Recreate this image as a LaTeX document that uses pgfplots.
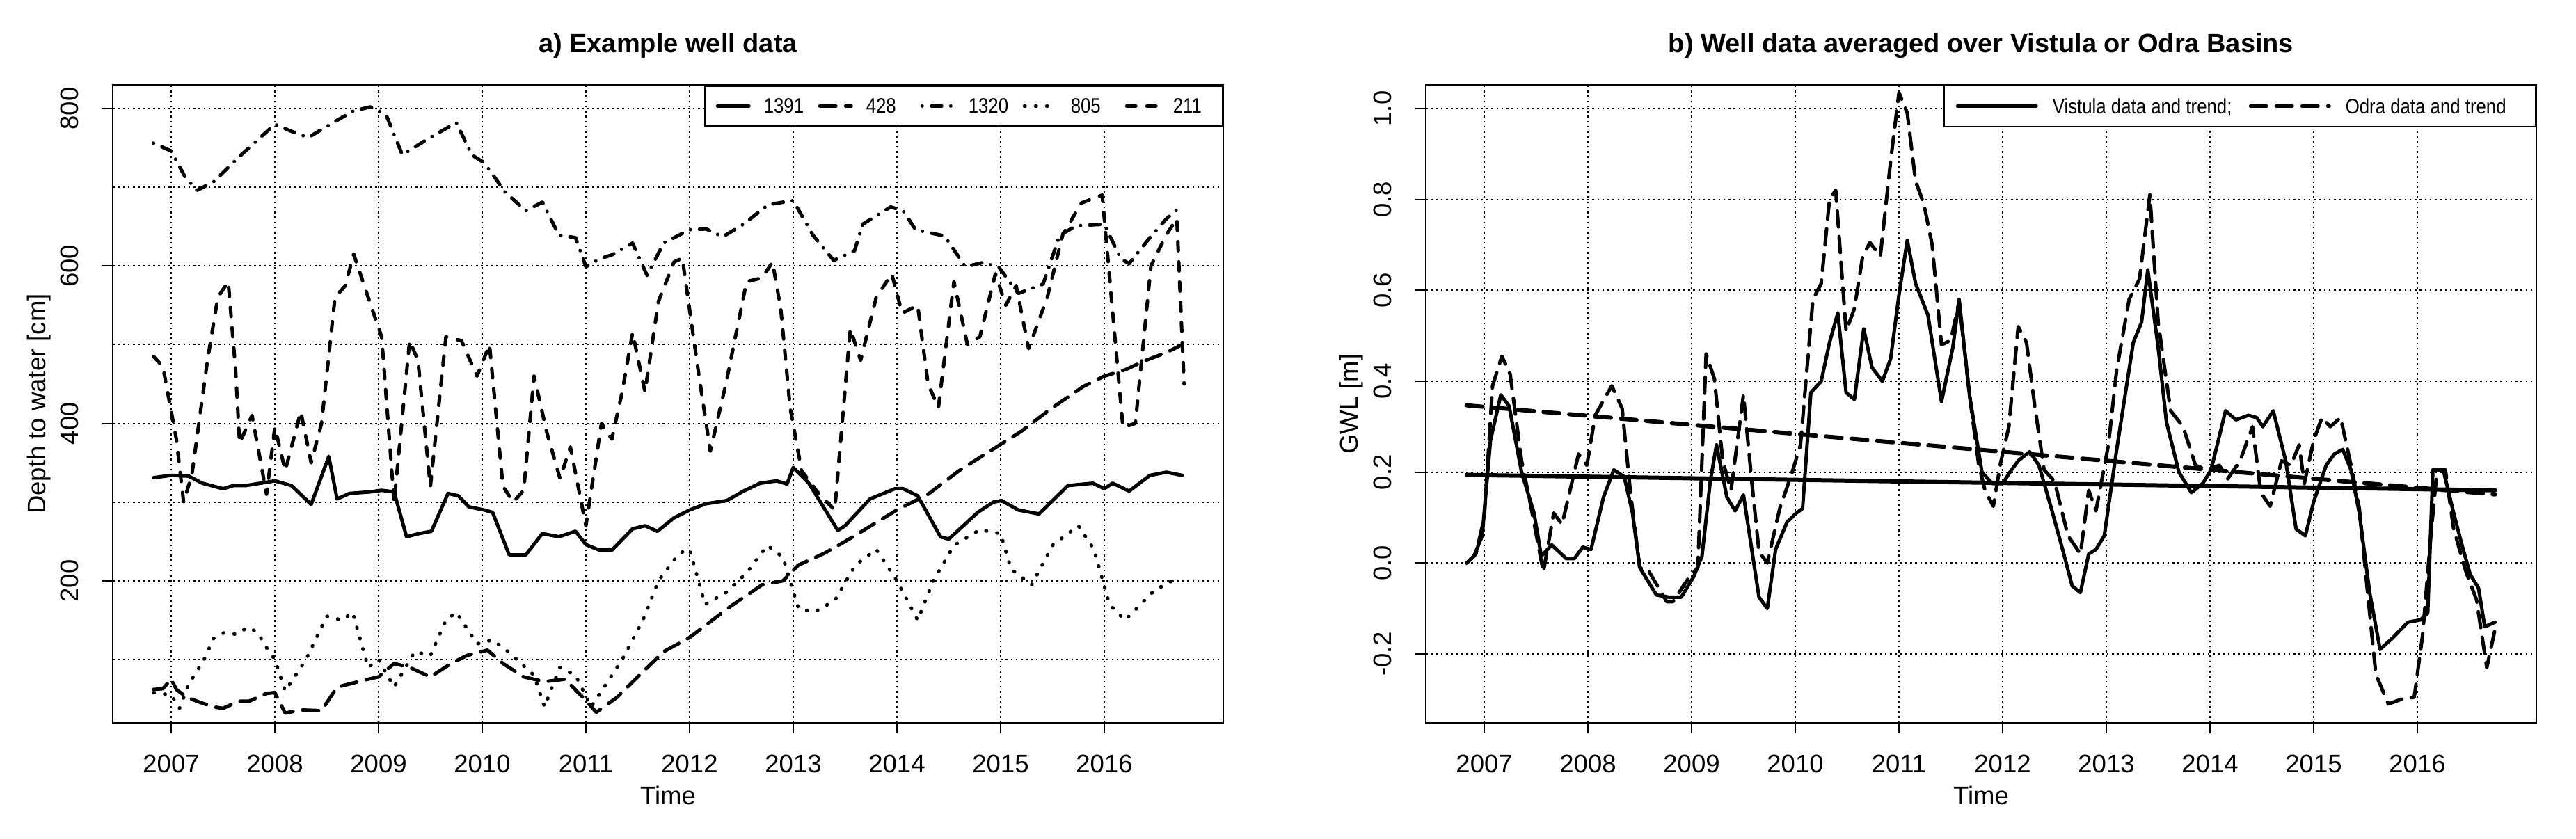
\documentclass[border=0pt]{standalone}
\usepackage{fontspec}
\setmainfont{Liberation Sans}
\newfontfamily\legfont[FakeStretch=0.86]{Liberation Sans}
\usepackage{pgfplots}
\pgfplotsset{compat=1.18}

% common R-like look, 1 px of the reference = 0.2pt
\pgfplotsset{
  rplot/.style={
    scale only axis, width=319.2pt, height=183.4pt,
    xmin=2006.436, xmax=2017.148,
    xtick={2007,2008,2009,2010,2011,2012,2013,2014,2015,2016},
    tick pos=left, tick align=outside,
    major tick length=3pt, minor tick length=0pt,
    major tick style={black, line width=0.4pt},
    axis line style={black, line width=0.5pt},
    xmajorgrids, ymajorgrids,
    major grid style={black, line width=0.4pt, dash pattern=on 0.5pt off 0.95pt},
    minor grid style={black, line width=0.4pt, dash pattern=on 0.5pt off 0.95pt},
    /pgf/number format/assume math mode=true,
    /pgf/number format/1000 sep={},
    tick label style={font=\fontsize{7.3pt}{8.8pt}\selectfont},
    xticklabel style={anchor=base, inner sep=0pt},
    xticklabel shift=11.2pt,
    yticklabel style={rotate=90, anchor=base, inner sep=0pt},
    yticklabel shift=7pt,
    every axis x label/.style={at={(axis description cs:0.5,-0.1276)}, anchor=base,
      font=\fontsize{7.3pt}{8.8pt}\selectfont},
    every axis y label/.style={at={(axis description cs:-0.0605,0.5)}, rotate=90, anchor=base,
      font=\fontsize{7.3pt}{8.8pt}\selectfont},
    every axis title/.style={at={(axis description cs:0.5,1.0502)}, anchor=base,
      font=\bfseries\fontsize{7.6pt}{9pt}\selectfont},
    legend style={at={(axis description cs:1,1)}, anchor=north east,
      draw=black, line width=0.5pt, inner ysep=3.7pt,
      font=\legfont\fontsize{6pt}{7pt}\selectfont,
      nodes={inner sep=0pt, text depth=0pt},
      cells={anchor=west}},
  },
  sdata/.style={black, line width=1pt, line cap=round, line join=round},
  longdash/.style={dash pattern=on 4.6pt off 2.8pt},
  dotdash/.style={dash pattern=on 0.01pt off 2.6pt on 3pt off 2.6pt},
  dotted r/.style={dash pattern=on 0.2pt off 3pt},
  dashed r/.style={dash pattern=on 2.6pt off 3.2pt},
}

\begin{document}
\begin{tikzpicture}
\useasboundingbox (0pt,0pt) rectangle (740.4pt,241pt);

% ---------------- a) ----------------
\begin{axis}[rplot,
  at={(32.4pt,33.2pt)}, anchor=south west,
  ymin=19.6, ymax=830,
  ytick={200,400,600,800},
  minor ytick={100,300,500,700},
  yminorgrids,
  title={a) Example well data},
  xlabel={Time}, ylabel={Depth to water [cm]},
  legend columns=5,
  legend image code/.code={\draw[#1] (0pt,0pt) -- (9pt,0pt);},
  legend style={inner xsep=3.2pt,
    /tikz/every odd column/.append style={column sep=3.8pt},
    /tikz/every even column/.append style={column sep=4.6pt}},
]
% 1391
\addplot[sdata] coordinates {
(2006.83,331) (2007.0,334) (2007.17,333) (2007.3,324) (2007.5,317) (2007.6,321)
(2007.72,321) (2008.0,327) (2008.16,321) (2008.35,297) (2008.52,358) (2008.6,304)
(2008.72,311) (2008.92,313) (2009.03,315) (2009.15,313) (2009.27,256) (2009.39,260)
(2009.51,263) (2009.67,311) (2009.77,308) (2009.87,294) (2010.02,290) (2010.1,287)
(2010.26,233) (2010.42,233) (2010.58,260) (2010.74,256) (2010.9,263) (2011.0,246)
(2011.13,239) (2011.25,239) (2011.45,266) (2011.57,270) (2011.69,263) (2011.85,280)
(2012.0,290) (2012.16,298) (2012.36,302) (2012.52,314) (2012.68,324) (2012.84,327)
(2012.94,323) (2013.0,344) (2013.15,324) (2013.43,264) (2013.5,270) (2013.74,304)
(2013.98,317) (2014.06,317) (2014.2,308) (2014.42,256) (2014.5,253) (2014.78,287)
(2014.93,300) (2015.01,302) (2015.17,290) (2015.37,285) (2015.65,321) (2015.89,324)
(2016.0,317) (2016.08,324) (2016.24,314) (2016.44,334) (2016.6,338) (2016.75,334)
};
\addlegendentry{\makebox[11pt][l]{1391}}
% 428
\addplot[sdata, longdash] coordinates {
(2006.83,62) (2006.92,63) (2007.0,75) (2007.05,62) (2007.15,52) (2007.25,47)
(2007.4,40) (2007.5,38) (2007.65,47) (2007.75,47) (2007.92,57) (2008.0,58)
(2008.1,32) (2008.25,36) (2008.45,35) (2008.6,65) (2008.75,70) (2008.9,75)
(2009.0,78) (2009.15,95) (2009.3,90) (2009.5,78) (2009.7,95) (2009.85,105)
(2010.05,112) (2010.2,95) (2010.4,78) (2010.6,72) (2010.8,75) (2011.0,48)
(2011.1,33) (2011.3,52) (2011.5,78) (2011.75,110) (2012.0,128) (2012.2,148)
(2012.4,168) (2012.7,195) (2012.9,200) (2013.05,220) (2013.3,235) (2013.5,250)
(2013.75,270) (2014.0,290) (2014.3,310) (2014.6,340) (2014.9,365) (2015.2,390)
(2015.5,420) (2015.8,447) (2016.0,460) (2016.2,468) (2016.4,480) (2016.6,490)
(2016.75,500)
};
\addlegendentry{\makebox[11pt][l]{428}}
% 1320
\addplot[sdata, dotdash] coordinates {
(2006.83,756) (2007.0,746) (2007.13,714) (2007.25,696) (2007.41,707) (2007.65,738)
(2008.0,780) (2008.16,771) (2008.32,763) (2008.6,785) (2008.76,797) (2008.92,802)
(2009.07,793) (2009.23,741) (2009.47,761) (2009.75,782) (2009.9,741) (2010.02,731)
(2010.22,694) (2010.42,670) (2010.58,681) (2010.74,639) (2010.9,636) (2011.0,599)
(2011.13,609) (2011.25,614) (2011.45,629) (2011.59,588) (2011.75,629) (2012.0,646)
(2012.16,647) (2012.32,637) (2012.52,653) (2012.76,678) (2013.0,683) (2013.19,639)
(2013.39,607) (2013.59,619) (2013.67,653) (2013.94,675) (2014.06,670) (2014.18,646)
(2014.46,638) (2014.66,599) (2014.82,604) (2014.98,599) (2015.17,565) (2015.41,577)
(2015.57,639) (2015.73,651) (2016.0,653) (2016.16,609) (2016.24,603) (2016.44,636)
(2016.6,660) (2016.75,677)
};
\addlegendentry{\makebox[11pt][l]{1320}}
% 805
\addplot[sdata, dotted r] coordinates {
(2006.83,58) (2007.0,55) (2007.08,38) (2007.17,69) (2007.31,98) (2007.41,127)
(2007.51,134) (2007.63,132) (2007.74,141) (2007.83,135) (2007.92,115) (2008.0,100)
(2008.1,60) (2008.3,100) (2008.5,155) (2008.65,150) (2008.75,160) (2008.9,90)
(2009.0,100) (2009.15,65) (2009.35,110) (2009.5,105) (2009.65,150) (2009.75,160)
(2009.95,120) (2010.1,125) (2010.25,110) (2010.5,80) (2010.6,40) (2010.75,90)
(2010.9,80) (2011.05,40) (2011.2,70) (2011.35,100) (2011.55,150) (2011.7,200)
(2011.9,235) (2012.0,240) (2012.15,170) (2012.35,185) (2012.55,210) (2012.75,245)
(2012.9,230) (2013.05,165) (2013.2,160) (2013.4,175) (2013.6,220) (2013.8,240)
(2014.0,200) (2014.2,150) (2014.35,200) (2014.55,245) (2014.8,265) (2015.0,260)
(2015.1,215) (2015.3,195) (2015.5,245) (2015.75,270) (2015.9,240) (2016.05,170)
(2016.2,150) (2016.35,170) (2016.5,190) (2016.6,195) (2016.7,205)
};
\addlegendentry{\makebox[11pt][l]{805}}
% 211
\addplot[sdata, dashed r] coordinates {
(2006.83,485) (2006.92,472) (2007.05,380) (2007.12,300) (2007.2,335) (2007.35,480)
(2007.45,560) (2007.55,580) (2007.62,470) (2007.66,375) (2007.78,410) (2007.92,310)
(2008.0,395) (2008.1,340) (2008.25,415) (2008.35,350) (2008.45,400) (2008.58,560)
(2008.68,575) (2008.76,615) (2008.9,560) (2009.03,510) (2009.15,300) (2009.3,505)
(2009.38,480) (2009.5,320) (2009.65,510) (2009.8,505) (2009.95,460) (2010.07,500)
(2010.2,320) (2010.3,300) (2010.4,315) (2010.5,460) (2010.62,390) (2010.75,330)
(2010.85,370) (2011.0,270) (2011.15,400) (2011.25,380) (2011.35,440) (2011.45,515)
(2011.57,440) (2011.7,555) (2011.85,605) (2011.93,610) (2012.08,470) (2012.2,365)
(2012.35,450) (2012.55,580) (2012.7,585) (2012.8,605) (2012.88,545) (2012.97,420)
(2013.08,340) (2013.25,310) (2013.4,290) (2013.55,520) (2013.65,480) (2013.8,560)
(2013.95,590) (2014.05,540) (2014.2,550) (2014.3,450) (2014.4,420) (2014.55,580)
(2014.68,500) (2014.8,510) (2014.95,590) (2015.05,550) (2015.15,575) (2015.27,495)
(2015.45,560) (2015.6,640) (2015.78,680) (2015.98,690) (2016.18,395) (2016.3,400)
(2016.45,600) (2016.6,640) (2016.7,660) (2016.77,450)
};
\addlegendentry{\makebox[11pt][l]{211}}
\end{axis}

% ---------------- b) ----------------
\begin{axis}[rplot,
  at={(409.8pt,33.2pt)}, anchor=south west,
  ymin=-0.3515, ymax=1.052,
  ytick={-0.2,0,0.2,0.4,0.6,0.8,1.0},
  yticklabel={\pgfmathprintnumber[fixed,fixed zerofill,precision=1]{\tick}},
  title={b) Well data averaged over Vistula or Odra Basins},
  xlabel={Time}, ylabel={GWL [m]},
  every axis y label/.append style={at={(axis description cs:-0.0611,0.5)}},
  legend columns=2,
  legend image code/.code={\draw[#1] (0pt,0pt) -- (22.6pt,0pt);},
  legend style={inner xsep=3.4pt,
    /tikz/every odd column/.append style={column sep=4.2pt},
    /tikz/every even column/.append style={column sep=5.2pt}},
]
% Vistula
\addplot[sdata] coordinates {
(2006.83,0.0) (2006.9,0.015) (2006.98,0.06) (2007.06,0.27) (2007.16,0.37) (2007.24,0.345)
(2007.36,0.2) (2007.48,0.11) (2007.55,0.015) (2007.65,0.04) (2007.79,0.01) (2007.87,0.01)
(2007.95,0.035) (2008.03,0.03) (2008.15,0.145) (2008.25,0.205) (2008.35,0.19) (2008.43,0.11)
(2008.5,-0.01) (2008.66,-0.07) (2008.78,-0.075) (2008.9,-0.075) (2009.02,-0.03) (2009.1,0.015)
(2009.18,0.18) (2009.24,0.26) (2009.34,0.145) (2009.42,0.115) (2009.5,0.15) (2009.58,0.03)
(2009.65,-0.075) (2009.73,-0.1) (2009.81,0.03) (2009.92,0.09) (2010.01,0.11) (2010.07,0.12)
(2010.15,0.375) (2010.25,0.4) (2010.33,0.485) (2010.41,0.55) (2010.49,0.375) (2010.57,0.36)
(2010.66,0.515) (2010.74,0.43) (2010.84,0.4) (2010.92,0.45) (2011.0,0.59) (2011.08,0.71)
(2011.16,0.615) (2011.28,0.545) (2011.41,0.355) (2011.52,0.475) (2011.58,0.58) (2011.68,0.37)
(2011.8,0.2) (2011.9,0.175) (2012.0,0.175) (2012.07,0.2) (2012.15,0.225) (2012.26,0.245)
(2012.35,0.215) (2012.47,0.12) (2012.59,0.02) (2012.67,-0.05) (2012.75,-0.065) (2012.83,0.02)
(2012.9,0.03) (2012.98,0.06) (2013.1,0.25) (2013.26,0.485) (2013.34,0.53) (2013.4,0.645)
(2013.5,0.475) (2013.58,0.31) (2013.7,0.2) (2013.82,0.155) (2013.93,0.175) (2014.01,0.205)
(2014.15,0.335) (2014.25,0.315) (2014.37,0.325) (2014.45,0.32) (2014.51,0.3) (2014.61,0.335)
(2014.73,0.225) (2014.83,0.075) (2014.92,0.06) (2015.0,0.135) (2015.12,0.215) (2015.2,0.24)
(2015.28,0.25) (2015.36,0.205) (2015.44,0.11) (2015.54,-0.065) (2015.64,-0.19) (2015.76,-0.165)
(2015.91,-0.13) (2016.03,-0.125) (2016.1,-0.11) (2016.15,0.205) (2016.25,0.205) (2016.35,0.11)
(2016.43,0.04) (2016.51,-0.025) (2016.59,-0.055) (2016.65,-0.14) (2016.75,-0.13)
};
\addlegendentry{\makebox[51.2pt][l]{Vistula data and trend;}}
% Odra
\addplot[sdata, longdash] coordinates {
(2006.83,0.0) (2006.92,0.02) (2007.0,0.1) (2007.08,0.39) (2007.17,0.455) (2007.25,0.415)
(2007.36,0.225) (2007.45,0.125) (2007.57,-0.02) (2007.67,0.11) (2007.75,0.085) (2007.91,0.24)
(2007.99,0.215) (2008.07,0.325) (2008.23,0.39) (2008.33,0.34) (2008.41,0.155) (2008.5,-0.01)
(2008.58,-0.015) (2008.76,-0.085) (2008.82,-0.085) (2008.98,-0.03) (2009.06,-0.01) (2009.14,0.46)
(2009.22,0.405) (2009.3,0.225) (2009.38,0.16) (2009.5,0.37) (2009.58,0.18) (2009.65,0.025)
(2009.73,0.0) (2009.85,0.12) (2009.97,0.2) (2010.05,0.26) (2010.17,0.58) (2010.25,0.615)
(2010.33,0.8) (2010.39,0.82) (2010.49,0.51) (2010.57,0.56) (2010.65,0.675) (2010.72,0.705)
(2010.82,0.675) (2010.92,0.885) (2011.0,1.035) (2011.08,0.99) (2011.16,0.84) (2011.24,0.79)
(2011.32,0.7) (2011.41,0.48) (2011.5,0.49) (2011.58,0.575) (2011.68,0.37) (2011.77,0.215)
(2011.83,0.16) (2011.91,0.125) (2011.98,0.22) (2012.06,0.3) (2012.15,0.52) (2012.23,0.485)
(2012.31,0.345) (2012.4,0.205) (2012.5,0.18) (2012.63,0.06) (2012.75,0.02) (2012.83,0.16)
(2012.9,0.115) (2013.02,0.26) (2013.1,0.425) (2013.22,0.58) (2013.32,0.625) (2013.42,0.81)
(2013.5,0.53) (2013.62,0.335) (2013.74,0.3) (2013.86,0.215) (2013.97,0.205) (2014.09,0.215)
(2014.17,0.185) (2014.29,0.225) (2014.41,0.3) (2014.49,0.155) (2014.58,0.125) (2014.69,0.225)
(2014.78,0.215) (2014.86,0.26) (2014.91,0.175) (2015.0,0.27) (2015.08,0.32) (2015.16,0.3)
(2015.26,0.32) (2015.36,0.215) (2015.44,0.12) (2015.52,-0.065) (2015.6,-0.245) (2015.72,-0.31)
(2015.84,-0.3) (2015.97,-0.295) (2016.05,-0.16) (2016.13,0.06) (2016.19,0.205) (2016.27,0.205)
(2016.35,0.075) (2016.47,-0.02) (2016.57,-0.08) (2016.67,-0.23) (2016.75,-0.145)
};
\addlegendentry{\makebox[51.2pt][l]{Odra data and trend}}
% trends
\addplot[sdata, line width=1.2pt, forget plot] coordinates {(2006.83,0.194) (2016.75,0.16)};
\addplot[sdata, line width=1.2pt, longdash, forget plot] coordinates {(2006.83,0.347) (2016.75,0.151)};
\end{axis}
\end{tikzpicture}
\end{document}
